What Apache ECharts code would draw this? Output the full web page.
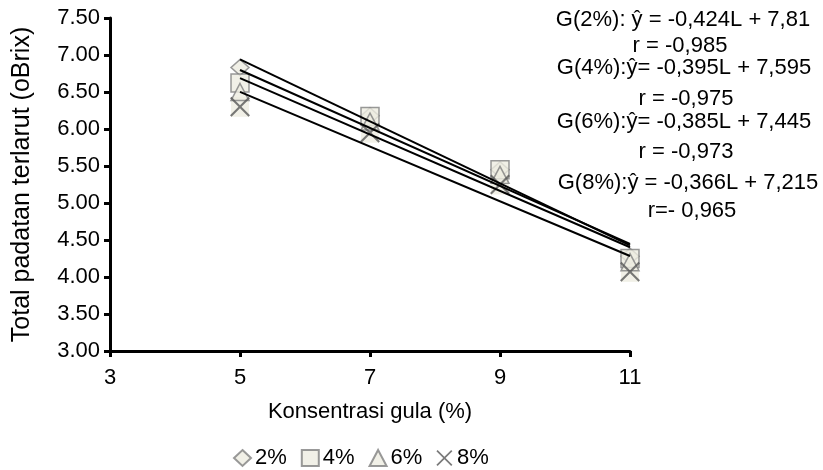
<!DOCTYPE html>
<html>
<head>
<meta charset="utf-8">
<script src="https://cdn.jsdelivr.net/npm/echarts@6/dist/echarts.min.js"></script>
<style>html,body{margin:0;padding:0;background:#fff}#c{width:823px;height:470px}</style>
</head>
<body>
<div id="c"></div>
<script>
const xValues = [5, 7, 9, 11];
const g2 = [6.83, 6.18, 5.45, 4.28];
const g4 = [6.62, 6.17, 5.45, 4.25];
const g6 = [6.50, 6.10, 5.38, 4.20];
const g8 = [6.30, 5.95, 5.25, 4.07];
const seriesNames = ['2%', '4%', '6%', '8%'];
const yTicks = ['3.00','3.50','4.00','4.50','5.00','5.50','6.00','6.50','7.00','7.50'];
const equations = [
  'G(2%): ŷ = -0,424L + 7,81', 'r = -0,985',
  'G(4%):ŷ= -0,395L + 7,595', 'r = -0,975',
  'G(6%):ŷ= -0,385L + 7,445', 'r = -0,973',
  'G(8%):ŷ = -0,366L + 7,215', 'r=- 0,965'
];

function fit(ys) {
  const n = xValues.length;
  const mx = xValues.reduce((a,b)=>a+b,0)/n;
  const my = ys.reduce((a,b)=>a+b,0)/n;
  let sxy = 0, sxx = 0;
  for (let i=0;i<n;i++){ sxy += (xValues[i]-mx)*(ys[i]-my); sxx += (xValues[i]-mx)**2; }
  const b = sxy/sxx, a = my - b*mx;
  const x0 = xValues[0], x1 = xValues[n-1];
  return [[x0, a+b*x0],[x1, a+b*x1]];
}
const pairs = ys => xValues.map((x,i)=>[x, ys[i]]);

const FONT = 'Liberation Sans, Arial, sans-serif';
const fill = '#eeece1', border = '#7f7f7f';
const crossPath = 'path://M0,1.5 L1.5,0 L10,8.5 L18.5,0 L20,1.5 L11.5,10 L20,18.5 L18.5,20 L10,11.5 L1.5,20 L0,18.5 L8.5,10 Z';

const markerStyle = {color: fill, borderColor: border, borderWidth: 1.5};
const allData = [g2, g4, g6, g8];
const symbols = ['diamond', 'rect', 'triangle', crossPath];
const sizes = [[18,16],[18,18],[18,17],[20,20]];

const series = [];
series.push({type:'scatter', data: pairs(g8), symbol:'rect', symbolSize:[18,20], itemStyle:{color:fill}, silent:true, z:1});
allData.forEach((d,i)=>{
  series.push({
    name: seriesNames[i], type:'scatter', data: pairs(d), symbol: symbols[i], symbolSize: sizes[i],
    itemStyle: i===3 ? {color:'#595959'} : markerStyle, z: 2
  });
});
allData.forEach((d,i)=>{
  series.push({type:'line', data: fit(d), symbol:'none', lineStyle:{color:'#000', width:2}, z:3, silent:true});
});

const eqY = [20, 46, 68, 99, 122, 152, 183, 211];
const eqX = [683, 680, 684, 686, 684, 686, 688, 692];
const graphics = equations.map((t,i)=>({
  type:'text', x: eqX[i], y: eqY[i],
  style:{text:t, font:'22px ' + FONT, fill:'#000', textAlign:'center', textVerticalAlign:'middle'}
}));

const chart = echarts.init(document.getElementById('c'));
chart.setOption({
  animation:false,
  backgroundColor:'#fff',
  grid:{left:110, right:193, top:18, bottom:119, containLabel:false, outerBoundsMode:'none'},
  xAxis:{type:'value', min:3, max:11, interval:2,
    name:'Konsentrasi gula (%)', nameLocation:'middle', nameGap:50,
    nameTextStyle:{fontFamily:FONT, fontSize:22, color:'#000'},
    axisLine:{show:true, lineStyle:{color:'#000', width:3}},
    axisTick:{show:true, length:6, lineStyle:{color:'#000', width:3}},
    axisLabel:{fontFamily:FONT, fontSize:22, color:'#000', margin:16},
    splitLine:{show:false}},
  yAxis:{type:'value', min:3, max:7.5, interval:0.5,
    name:'Total padatan terlarut (oBrix)', nameLocation:'middle', nameGap:75, nameRotate:90,
    nameTextStyle:{fontFamily:FONT, fontSize:25, color:'#000'},
    axisLine:{show:true, lineStyle:{color:'#000', width:3}},
    axisTick:{show:true, length:6, lineStyle:{color:'#000', width:3}},
    axisLabel:{fontFamily:FONT, fontSize:22, color:'#000', margin:10,
      formatter: v => yTicks[Math.round((v-3)/0.5)]},
    splitLine:{show:false}},
  legend:{data: seriesNames, top:442, left:228, itemWidth:17, itemHeight:16, itemGap:14,
    textStyle:{fontFamily:FONT, fontSize:22, color:'#000', padding:[0,0,0,-1]}},
  graphic: graphics,
  series: series
});
</script>
</body>
</html>
